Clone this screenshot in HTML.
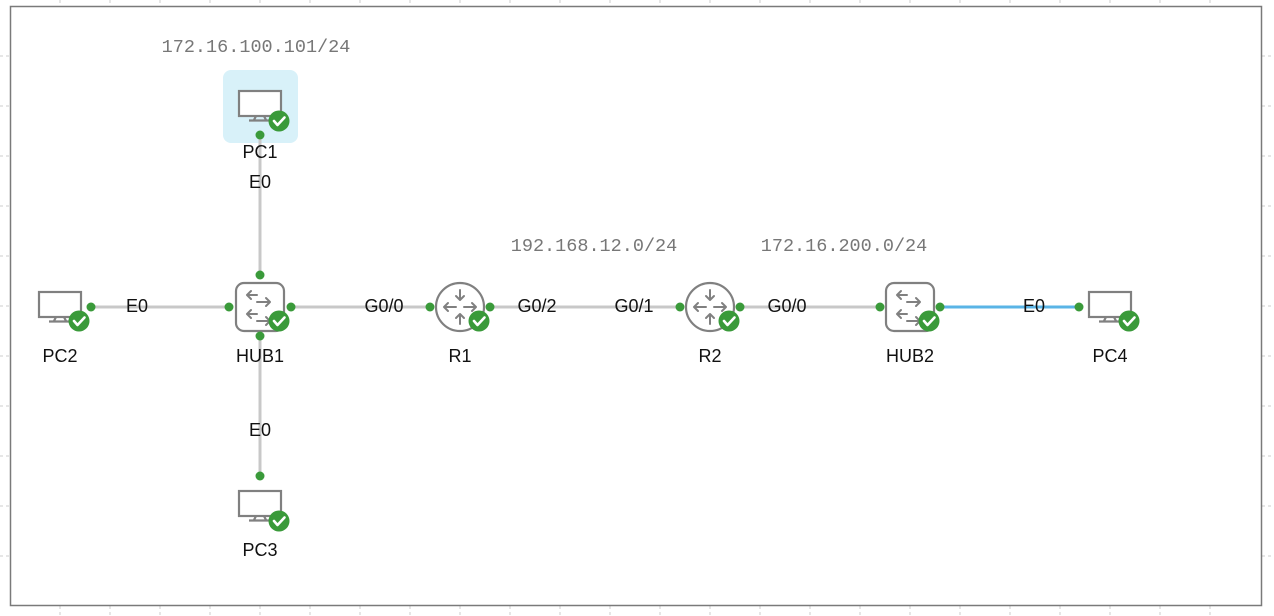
<!DOCTYPE html>
<html><head><meta charset="utf-8"><style>
html,body{margin:0;padding:0;background:#fff;width:1274px;height:616px;overflow:hidden}
svg{display:block}
.lbl{font-family:"Liberation Sans",sans-serif;font-size:18px;fill:#111;text-anchor:middle}
.ip{font-family:"Liberation Mono",monospace;font-size:18.5px;fill:#777;text-anchor:middle}
</style></head><body>
<svg width="1274" height="616" viewBox="0 0 1274 616" xmlns="http://www.w3.org/2000/svg">
<defs>
<g id="mon">
<rect x="-21" y="-14" width="42" height="25" fill="#fff" stroke="#808080" stroke-width="2.2"/>
<path d="M-4 11 L-6 15 M4 11 L6 15 M-11 15.5 L11 15.5" stroke="#808080" stroke-width="2.2" fill="none"/>
</g>
<g id="chk">
<circle r="10.5" fill="#3a9a3a"/>
<path d="M-5 0 L-1.5 4 L5.5 -3.5" stroke="#fff" stroke-width="2.6" fill="none" stroke-linecap="round" stroke-linejoin="round"/>
</g>
<g id="hub">
<rect x="-24" y="-24" width="48" height="48" rx="8" fill="#fff" stroke="#808080" stroke-width="2.2"/>
<g stroke="#808080" stroke-width="2" fill="none" stroke-linecap="round" stroke-linejoin="round">
<path d="M-13 -12 H-3 M-9 -16 L-13 -12 L-9 -8"/>
<path d="M-3 -5 H10 M6 -9 L10 -5 L6 -1"/>
<path d="M-13 7 H-3 M-9 3 L-13 7 L-9 11"/>
<path d="M-3 14 H10 M6 10 L10 14 L6 18"/>
</g>
</g>
<g id="rtr">
<circle r="24" fill="#fff" stroke="#808080" stroke-width="2.2"/>
<g stroke="#808080" stroke-width="2" fill="none" stroke-linecap="round" stroke-linejoin="round">
<path d="M0 -17 V-7 M-4 -11 L0 -7 L4 -11"/>
<path d="M0 17 V7 M-4 11 L0 7 L4 11"/>
<path d="M-4 0 H-16 M-12 -4 L-16 0 L-12 4"/>
<path d="M4 0 H16 M12 -4 L16 0 L12 4"/>
</g>
</g>
</defs>
<g stroke="#ccc" stroke-width="1" stroke-dasharray="3,3">
<path d="M60 0V6M110 0V6M160 0V6M210 0V6M260 0V6M310 0V6M360 0V6M410 0V6M460 0V6M510 0V6M560 0V6M610 0V6M660 0V6M710 0V6M760 0V6M810 0V6M860 0V6M910 0V6M960 0V6M1010 0V6M1060 0V6M1110 0V6M1160 0V6M1210 0V6"/>
<path d="M0 56H10M0 106H10M0 156H10M0 206H10M0 256H10M0 306H10M0 356H10M0 406H10M0 456H10M0 506H10M0 556H10"/>
<path d="M1262 56H1274M1262 106H1274M1262 156H1274M1262 206H1274M1262 256H1274M1262 306H1274M1262 356H1274M1262 406H1274M1262 456H1274M1262 506H1274M1262 556H1274"/>
<path d="M60 606V616M110 606V616M160 606V616M210 606V616M260 606V616M310 606V616M360 606V616M410 606V616M460 606V616M510 606V616M560 606V616M610 606V616M660 606V616M710 606V616M760 606V616M810 606V616M860 606V616M910 606V616M960 606V616M1010 606V616M1060 606V616M1110 606V616M1160 606V616M1210 606V616"/>
</g>
<rect x="10.5" y="6.5" width="1251" height="599" fill="#fff" stroke="#7a7a7a" stroke-width="1.5"/>
<rect x="223" y="70" width="75" height="73" rx="8" fill="#d8f1f9"/>
<g stroke="#c8c8c8" stroke-width="3" fill="none">
<path d="M260 135V275M260 336V476M91 307H229M291 307H430M490 307H680M740 307H880"/>
</g>
<path d="M940 307H1079" stroke="#5ab4e6" stroke-width="3"/>
<use href="#mon" x="260" y="105"/><use href="#chk" x="279" y="121"/>
<use href="#mon" x="60" y="306"/><use href="#chk" x="79" y="321"/>
<use href="#mon" x="260" y="505"/><use href="#chk" x="279" y="521"/>
<use href="#mon" x="1110" y="306"/><use href="#chk" x="1129" y="321"/>
<use href="#hub" x="260" y="307"/><use href="#chk" x="279" y="321"/>
<use href="#hub" x="910" y="307"/><use href="#chk" x="929" y="321"/>
<use href="#rtr" x="460" y="307"/><use href="#chk" x="479" y="321"/>
<use href="#rtr" x="710" y="307"/><use href="#chk" x="729" y="321"/>
<g fill="#3a9a3a">
<circle cx="260" cy="135" r="4.5"/><circle cx="260" cy="275" r="4.5"/><circle cx="260" cy="336" r="4.5"/><circle cx="260" cy="476" r="4.5"/>
<circle cx="91" cy="307" r="4.5"/><circle cx="229" cy="307" r="4.5"/><circle cx="291" cy="307" r="4.5"/>
<circle cx="430" cy="307" r="4.5"/><circle cx="490" cy="307" r="4.5"/><circle cx="680" cy="307" r="4.5"/><circle cx="740" cy="307" r="4.5"/>
<circle cx="880" cy="307" r="4.5"/><circle cx="940" cy="307" r="4.5"/><circle cx="1079" cy="307" r="4.5"/>
</g>
<text class="lbl" x="260" y="158">PC1</text>
<text class="lbl" x="60" y="362">PC2</text>
<text class="lbl" x="260" y="362">HUB1</text>
<text class="lbl" x="460" y="362">R1</text>
<text class="lbl" x="710" y="362">R2</text>
<text class="lbl" x="910" y="362">HUB2</text>
<text class="lbl" x="1110" y="362">PC4</text>
<text class="lbl" x="260" y="556">PC3</text>
<text class="lbl" x="260" y="188">E0</text>
<text class="lbl" x="260" y="436">E0</text>
<text class="lbl" x="137" y="312">E0</text>
<text class="lbl" x="1034" y="312">E0</text>
<text class="lbl" x="384" y="312">G0/0</text>
<text class="lbl" x="537" y="312">G0/2</text>
<text class="lbl" x="634" y="312">G0/1</text>
<text class="lbl" x="787" y="312">G0/0</text>
<text class="ip" x="256" y="52">172.16.100.101/24</text>
<text class="ip" x="594" y="251">192.168.12.0/24</text>
<text class="ip" x="844" y="251">172.16.200.0/24</text>
</svg>
</body></html>
